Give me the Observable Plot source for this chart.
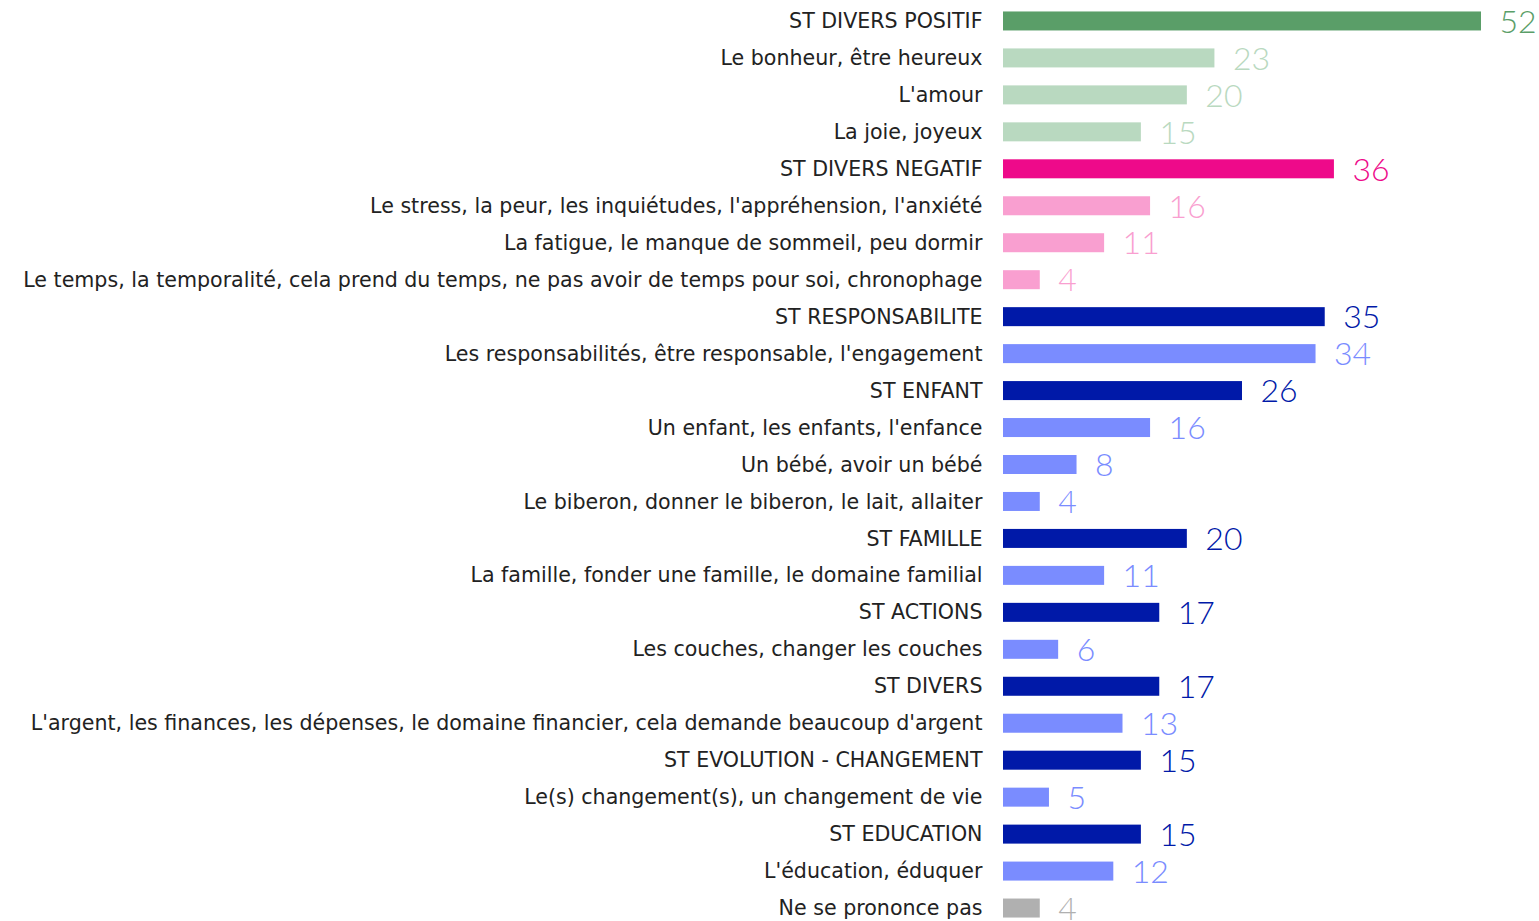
<!DOCTYPE html>
<html><head><meta charset="utf-8">
<script src="https://cdn.jsdelivr.net/npm/d3@7"></script>
<script src="https://cdn.jsdelivr.net/npm/@observablehq/plot@0.6"></script>
<style>
html,body{margin:0;padding:0;background:#fff;}
#chart svg{display:block;}
</style>
</head><body><div id="chart"></div>
<script>
const categories = [
  "ST DIVERS POSITIF",
  "Le bonheur, être heureux",
  "L'amour",
  "La joie, joyeux",
  "ST DIVERS NEGATIF",
  "Le stress, la peur, les inquiétudes, l'appréhension, l'anxiété",
  "La fatigue, le manque de sommeil, peu dormir",
  "Le temps, la temporalité, cela prend du temps, ne pas avoir de temps pour soi, chronophage",
  "ST RESPONSABILITE",
  "Les responsabilités, être responsable, l'engagement",
  "ST ENFANT",
  "Un enfant, les enfants, l'enfance",
  "Un bébé, avoir un bébé",
  "Le biberon, donner le biberon, le lait, allaiter",
  "ST FAMILLE",
  "La famille, fonder une famille, le domaine familial",
  "ST ACTIONS",
  "Les couches, changer les couches",
  "ST DIVERS",
  "L'argent, les finances, les dépenses, le domaine financier, cela demande beaucoup d'argent",
  "ST EVOLUTION - CHANGEMENT",
  "Le(s) changement(s), un changement de vie",
  "ST EDUCATION",
  "L'éducation, éduquer",
  "Ne se prononce pas"
];
const values = [52, 23, 20, 15, 36, 16, 11, 4, 35, 34, 26, 16, 8, 4, 20, 11, 17, 6, 17, 13, 15, 5, 15, 12, 4];
const groups = ["posST","pos","pos","pos","negST","neg","neg","neg","ST","sub","ST","sub","sub","sub","ST","sub","ST","sub","ST","sub","ST","sub","ST","sub","nsp"];
const groupNames = ["posST","pos","negST","neg","ST","sub","nsp"];
const groupColors = ["#5a9e68","#b9d9c0","#ee0a8a","#f99fd0","#0019a8","#7a8cff","#b0b0b0"];

const data = categories.map((c, i) => ({category: c, value: values[i], group: groups[i]}));

const chart = Plot.plot({
  width: 1539,
  height: 921,
  marginLeft: 1003,
  marginRight: 58,
  marginTop: 0,
  marginBottom: 0,
  style: {fontFamily: "Lato, 'Open Sans', sans-serif", background: "#fff"},
  x: {domain: [0, 52], axis: null},
  y: {domain: categories, range: [-6.5, 935.5], padding: 0.486, round: false, axis: null},
  color: {domain: groupNames, range: groupColors},
  marks: [
    Plot.barX(data, {x: "value", y: "category", fill: "group"}),
    Plot.axisY({tickSize: 0, tickPadding: 21, fontSize: 20.6, fill: "#222", label: null,
      fontFamily: "'DejaVu Sans', sans-serif"}),
    Plot.text(data, {x: "value", y: "category", text: d => String(d.value), fill: "group",
      textAnchor: "start", dx: 18, dy: 1, fontSize: 32, fontWeight: 300})
  ]
});
document.getElementById("chart").appendChild(chart);
</script>
</body></html>
